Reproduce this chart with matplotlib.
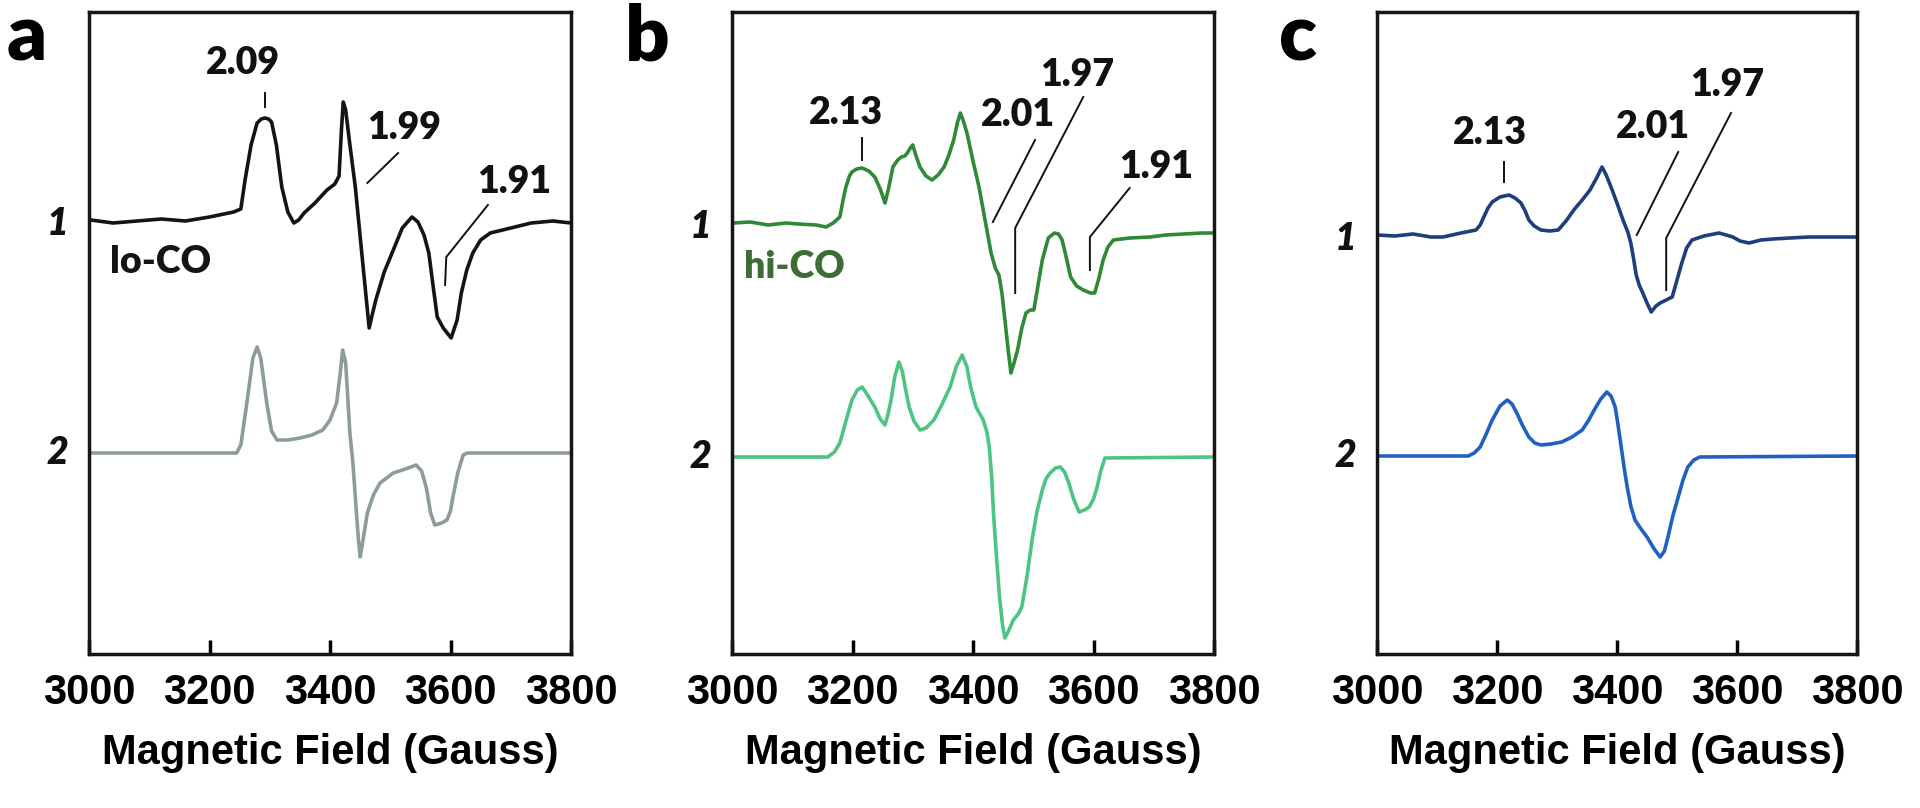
import numpy as np
import matplotlib.pyplot as plt

# EPR spectra (field in Gauss, intensity in arbitrary units
# relative to each trace's own baseline)
a1_field = [3003, 3040, 3080, 3120, 3160, 3200, 3240, 3252, 3259, 3269, 3279, 3286, 3292,
            3298, 3303, 3311, 3320, 3330, 3340, 3348, 3357, 3375, 3395, 3408, 3415, 3419,
            3422, 3426, 3432, 3442, 3455, 3465, 3470, 3476, 3490, 3503, 3520, 3536, 3546,
            3556, 3564, 3572, 3578, 3588, 3601, 3611, 3618, 3627, 3637, 3650, 3666, 3700,
            3734, 3770, 3800]
a1_int = [0, -3, -1, 1, -1, 3, 8, 11, 40, 75, 97, 101, 102,
          101, 98, 75, 33, 8, -3, 0, 7, 17, 30, 36, 44, 90,
          118, 110, 80, 33, -47, -108, -95, -80, -52, -33, -8, 3, -2,
          -15, -33, -70, -97, -108, -118, -100, -73, -50, -33, -20, -13, -8,
          -3, -1, -3]

a2_field = [3000, 3245, 3252, 3262, 3272, 3279, 3285, 3295, 3303, 3312, 3330, 3350, 3370,
            3388, 3400, 3411, 3417, 3421, 3426, 3430, 3433, 3438, 3442, 3447, 3450, 3454,
            3462, 3472, 3483, 3505, 3530, 3543, 3552, 3560, 3567, 3574, 3585, 3594, 3600,
            3604, 3612, 3621, 3628, 3800]
a2_int = [0, 0, 8, 50, 95, 106, 95, 50, 22, 13, 13, 15, 18,
          23, 33, 50, 80, 103, 90, 50, 20, -10, -44, -85, -104, -90,
          -60, -42, -30, -20, -15, -12, -18, -35, -60, -72, -70, -67, -58,
          -44, -20, -2, 0, 0]

b1_field = [3002, 3030, 3060, 3090, 3110, 3140, 3156, 3168, 3179, 3185, 3189, 3195, 3199,
            3207, 3216, 3227, 3237, 3246, 3254, 3260, 3267, 3275, 3281, 3287, 3291, 3296,
            3300, 3305, 3312, 3322, 3332, 3342, 3352, 3360, 3368, 3374, 3379, 3384, 3390,
            3400, 3410, 3420, 3430, 3437, 3443, 3448, 3453, 3458, 3463, 3468, 3474, 3481,
            3488, 3495, 3501, 3508, 3515, 3525, 3535, 3542, 3548, 3555, 3562, 3572, 3583,
            3595, 3602, 3609, 3616, 3624, 3633, 3660, 3694, 3720, 3750, 3780, 3802]
b1_int = [0, 1, -2, 0, -1, -2, -4, 0, 6, 25, 36, 47, 51,
          54, 55, 52, 46, 34, 20, 35, 56, 63, 66, 67, 70, 75,
          78, 68, 56, 47, 43, 48, 56, 68, 83, 100, 110, 102, 90,
          62, 36, 3, -30, -45, -52, -70, -97, -125, -150, -140, -127, -105,
          -90, -87, -87, -62, -37, -15, -10, -11, -17, -35, -54, -63, -67,
          -70, -70, -55, -37, -24, -17, -15, -14, -12, -11, -10, -10]

b2_field = [3000, 3159, 3170, 3179, 3190, 3199, 3208, 3216, 3225, 3237, 3246, 3254, 3259,
            3264, 3270, 3277, 3283, 3288, 3294, 3302, 3312, 3322, 3335, 3348, 3362, 3372,
            3382, 3390, 3396, 3405, 3417, 3423, 3427, 3431, 3434, 3439, 3444, 3449, 3453,
            3458, 3467, 3475, 3481, 3490, 3498, 3506, 3515, 3521, 3528, 3537, 3545, 3552,
            3559, 3567, 3576, 3585, 3593, 3600, 3606, 3612, 3619, 3800]
b2_int = [0, 0, 5, 14, 38, 57, 67, 70, 62, 50, 38, 32, 43,
          57, 80, 95, 85, 68, 50, 36, 27, 29, 37, 52, 70, 90,
          102, 90, 70, 50, 37, 25, 10, -20, -56, -100, -140, -168, -181,
          -175, -163, -157, -150, -118, -83, -55, -33, -22, -16, -11, -10, -15,
          -26, -42, -55, -53, -50, -42, -30, -14, -1, 0]

c1_field = [3000, 3030, 3060, 3090, 3110, 3140, 3165, 3172, 3178, 3185, 3192, 3205, 3220,
            3230, 3240, 3247, 3253, 3262, 3273, 3288, 3302, 3315, 3328, 3342, 3355, 3366,
            3375, 3382, 3390, 3400, 3410, 3418, 3423, 3428, 3432, 3437, 3443, 3450, 3457,
            3465, 3472, 3482, 3492, 3500, 3508, 3516, 3525, 3545, 3570, 3582, 3593, 3605,
            3620, 3640, 3660, 3688, 3720, 3760, 3800]
c1_int = [0, -1, 1, -2, -2, 2, 5, 10, 18, 27, 33, 38, 40,
          37, 32, 24, 15, 9, 5, 4, 5, 14, 25, 35, 45, 57,
          68, 60, 48, 32, 15, 3, -8, -25, -40, -50, -58, -68, -77,
          -71, -68, -65, -62, -45, -28, -13, -5, -1, 2, 0, -2, -6,
          -8, -5, -4, -3, -2, -2, -2]

c2_field = [3000, 3152, 3162, 3172, 3182, 3192, 3205, 3217, 3225, 3233, 3243, 3253, 3263,
            3273, 3290, 3308, 3325, 3342, 3352, 3362, 3373, 3383, 3390, 3397, 3402, 3407,
            3412, 3417, 3423, 3430, 3440, 3450, 3462, 3472, 3479, 3485, 3493, 3502, 3510,
            3518, 3528, 3538, 3800]
c2_int = [0, 0, 3, 9, 22, 36, 50, 56, 52, 43, 30, 19, 13,
          11, 12, 14, 19, 26, 35, 46, 57, 64, 60, 49, 30, 9,
          -12, -31, -50, -64, -73, -81, -93, -101, -95, -81, -60, -41, -24,
          -11, -4, -1, 0]

panels = ['a', 'b', 'c']
offsets = {'a': (434, 201), 'b': (431, 197), 'c': (419, 198)}
colors = {'a': ('#141414', '#8d9c98'), 'b': ('#2f8a36', '#4dc484'), 'c': ('#1e3f7c', '#2060c0')}
traces = {'a': ((a1_field, a1_int), (a2_field, a2_int)),
          'b': ((b1_field, b1_int), (b2_field, b2_int)),
          'c': ((c1_field, c1_int), (c2_field, c2_int))}

# g-value labels: (text, label x, label y, line x points, line y points)
gvals = {
    'a': [('2.09', 3256, 591, [3292, 3292], [547, 561]),
          ('1.99', 3523, 526, [3462, 3513], [471, 501]),
          ('1.91', 3705, 472, [3591, 3593, 3662], [369, 397, 449])],
    'b': [('2.13', 3189, 541, [3216, 3216], [494, 516]),
          ('2.01', 3475, 539, [3433, 3503], [432, 514]),
          ('1.97', 3573, 579, [3470, 3470, 3583], [361, 426, 557]),
          ('1.91', 3704, 487, [3594, 3594, 3660], [384, 417, 466])],
    'c': [('2.13', 3188, 521, [3212, 3212], [472, 492]),
          ('2.01', 3460, 527, [3433, 3502], [419, 502]),
          ('1.97', 3583, 569, [3482, 3482, 3590], [364, 416, 541])],
}
sample_labels = {'a': ('lo-CO', 3035, 392, '#141414'), 'b': ('hi-CO', 3020, 387, '#3f6b37')}
ax_left = {'a': 89, 'b': 732, 'c': 1377}
ax_width = {'a': 482, 'b': 482, 'c': 480}
letter_x = {'a': 27, 'b': 647, 'c': 1298}

W, H = 1920, 808
fig = plt.figure(figsize=(W / 100, H / 100), dpi=100)
annot_font = 'Lato'
tick_font = 'Liberation Sans'

for p in panels:
    ax = fig.add_axes([ax_left[p] / W, 154 / H, ax_width[p] / W, 642 / H])
    for (fld, inten), off, col in zip(traces[p], offsets[p], colors[p]):
        ax.plot(fld, np.array(inten) + off, color=col, lw=2.6,
                solid_joinstyle='round', solid_capstyle='round')
    for txt, lx, ly, xs, ys in gvals[p]:
        ax.plot(xs, ys, color='#111111', lw=1.4)
        ax.text(lx, ly, txt, ha='center', va='center', fontsize=27,
                fontweight='heavy', family=annot_font, color='#111111')
    if p in sample_labels:
        txt, lx, ly, col = sample_labels[p]
        ax.text(lx, ly, txt, ha='left', va='center', fontsize=27,
                fontweight='heavy', family=annot_font, color=col)
    for k, off in enumerate(offsets[p]):
        ax.text(-0.066 * 480 / ax_width[p], off - 4 if k == 0 else off,
                str(k + 1), transform=ax.get_yaxis_transform(), ha='center',
                va='center', fontsize=27, fontweight='heavy', fontstyle='italic',
                family=annot_font, color='#111111')
    ax.set_xlim(3000, 3800)
    ax.set_ylim(0, 642)
    ax.set_xticks([3000, 3200, 3400, 3600, 3800])
    ax.set_yticks([])
    ax.tick_params(axis='x', direction='in', length=10, width=2.5, pad=14)
    for lab in ax.get_xticklabels():
        lab.set_fontfamily(tick_font)
        lab.set_fontsize(30)
        lab.set_fontweight('bold')
    ax.set_xlabel('Magnetic Field (Gauss)', fontsize=30, fontweight='bold',
                  family=tick_font, labelpad=14)
    for s in ax.spines.values():
        s.set_linewidth(2.5)
        s.set_color('#151515')
    fig.text(letter_x[p] / W, 1 - 38 / H, p, ha='center', va='center', fontsize=56,
             fontweight='heavy', family=annot_font)

fig.savefig('out.png', dpi=100)
